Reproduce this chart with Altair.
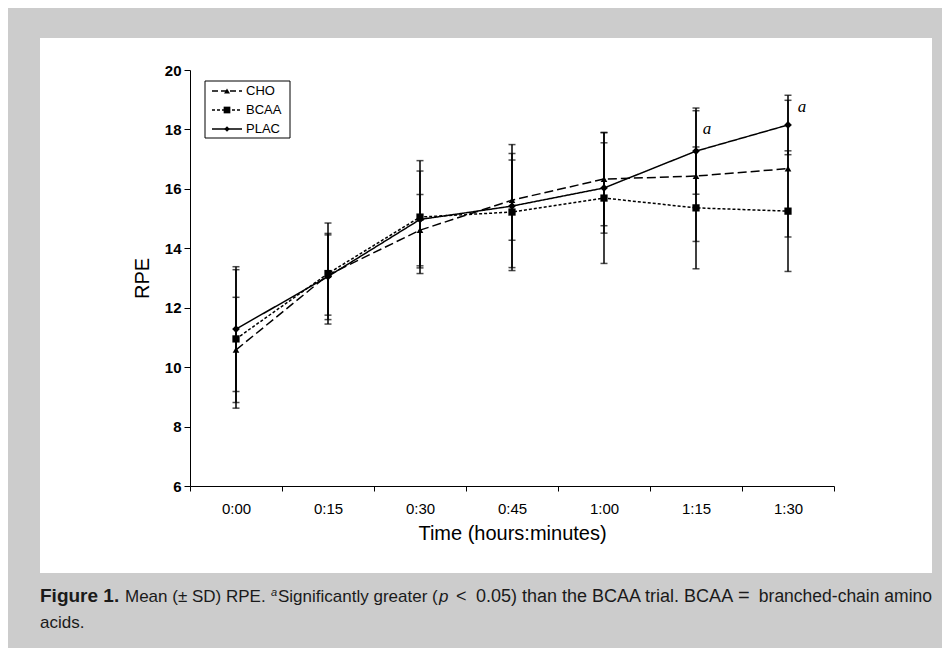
import altair as alt
import pandas as pd

times = ["0:00", "0:15", "0:30", "0:45", "1:00", "1:15", "1:30"]
series = ["CHO", "BCAA", "PLAC"]
cho_mean = [10.58, 13.10, 14.61, 15.62, 16.33, 16.43, 16.68]
cho_sd = [1.77, 1.35, 1.20, 1.35, 1.57, 2.20, 2.30]
bcaa_mean = [10.95, 13.15, 15.05, 15.22, 15.69, 15.36, 15.25]
bcaa_sd = [2.33, 1.70, 1.90, 1.97, 2.20, 2.05, 2.03]
plac_mean = [11.28, 13.05, 14.97, 15.42, 16.03, 17.27, 18.15]
plac_sd = [2.10, 1.45, 1.63, 2.07, 1.52, 1.45, 1.00]
y_ticks = [6, 8, 10, 12, 14, 16, 18, 20]
sig_times = ["1:15", "1:30"]
sig_y = [18.0, 18.75]
sig_dx = [11, 14]

rows = []
for name, m, s in [("CHO", cho_mean, cho_sd), ("BCAA", bcaa_mean, bcaa_sd), ("PLAC", plac_mean, plac_sd)]:
    for t, mv, sv in zip(times, m, s):
        rows.append({"time": t, "series": name, "mean": mv, "lo": mv - sv, "hi": mv + sv})
df = pd.DataFrame(rows)

FONT = "Liberation Sans"
dash_scale = alt.Scale(domain=series, range=[[9, 4], [3, 2], [1, 0]])
shape_scale = alt.Scale(domain=series, range=["triangle-up", "square", "diamond"])
size_scale = alt.Scale(domain=series, range=[45, 60, 40])

x_enc = alt.X("time:N", sort=times, scale=alt.Scale(domain=times, paddingInner=0, paddingOuter=0),
              axis=alt.Axis(title="Time (hours:minutes)", labelAngle=0, labelFontSize=15, labelFont=FONT,
                            labelColor="black", labelPadding=10, tickSize=5, tickBand="extent",
                            tickColor="black", domainColor="black", titleFont=FONT, titleFontSize=20,
                            titleFontWeight="normal", titleColor="black", titlePadding=7, grid=False,
                            zindex=1))
y_scale = alt.Scale(domain=[6, 20], nice=False, zero=False)
y_enc = alt.Y("mean:Q", scale=y_scale,
              axis=alt.Axis(title="RPE", values=y_ticks, labelFontSize=15, labelFont=FONT,
                            labelFontWeight="bold", labelColor="black", labelPadding=3, tickSize=6,
                            tickColor="black", domainColor="black", titleFont=FONT, titleFontSize=20,
                            titleFontWeight="normal", titleColor="black", titlePadding=12, grid=False,
                            zindex=1))

one = pd.DataFrame({"k": [0]})
panel = alt.Chart(one).mark_rect(fill="white").encode(
    x=alt.value(-150), x2=alt.value(742), y=alt.value(-32), y2=alt.value(503))

base = alt.Chart(df)
lines = base.mark_line(color="black", strokeWidth=1.5).encode(
    x=x_enc, y=y_enc,
    strokeDash=alt.StrokeDash("series:N", scale=dash_scale, legend=None),
    detail="series:N")
rules = base.mark_rule(color="black", strokeWidth=1.5).encode(
    x=alt.X("time:N", sort=times), y=alt.Y("lo:Q", scale=y_scale), y2="hi:Q")
caps_lo = base.mark_tick(color="black", size=7, thickness=1.5).encode(
    x=alt.X("time:N", sort=times), y=alt.Y("lo:Q", scale=y_scale))
caps_hi = base.mark_tick(color="black", size=7, thickness=1.5).encode(
    x=alt.X("time:N", sort=times), y=alt.Y("hi:Q", scale=y_scale))
points = base.mark_point(filled=True, color="black", opacity=1).encode(
    x=alt.X("time:N", sort=times), y=alt.Y("mean:Q", scale=y_scale),
    shape=alt.Shape("series:N", scale=shape_scale, legend=None),
    size=alt.Size("series:N", scale=size_scale, legend=None))

sig_df = pd.DataFrame({"time": sig_times, "y": sig_y, "dx": sig_dx})
sig_layers = [
    alt.Chart(sig_df.iloc[[i]]).mark_text(text="a", font="Liberation Serif", fontStyle="italic",
                                          fontSize=17, color="black", dx=int(sig_dx[i]), baseline="middle").encode(
        x=alt.X("time:N", sort=times), y=alt.Y("y:Q", scale=y_scale))
    for i in range(len(sig_times))
]

# legend (layout only)
legend_box = alt.Chart(one).mark_rect(fill="white", stroke="black", strokeWidth=1).encode(
    x=alt.value(15), x2=alt.value(100), y=alt.value(11), y2=alt.value(68))
leg_y = [21, 40, 59]
leg_dash = [[6, 3], [3, 2], [1, 0]]
leg_shape = ["triangle-up", "square", "diamond"]
leg_size = [35, 45, 30]
legend_layers = []
for i, name in enumerate(series):
    legend_layers.append(alt.Chart(one).mark_rule(color="black", strokeWidth=1.5, strokeDash=leg_dash[i]).encode(
        x=alt.value(22), x2=alt.value(52), y=alt.value(leg_y[i])))
    legend_layers.append(alt.Chart(one).mark_point(filled=True, color="black", opacity=1,
                                                   shape=leg_shape[i], size=leg_size[i]).encode(
        x=alt.value(37), y=alt.value(leg_y[i])))
    legend_layers.append(alt.Chart(one).mark_text(text=name, font=FONT, fontSize=13, color="black",
                                                  align="left", baseline="middle").encode(
        x=alt.value(56), y=alt.value(leg_y[i])))

# caption (plot-area coordinates: page x = value + 190, page y = value + 70)
cy = 532
cap_color = "#1a1a1a"
cap_segments = [
    ("Figure 1.", -150, cy, "bold", "normal", 19, "left"),
    ("Mean (± SD) RPE.", -65, cy, "normal", "normal", 17, "left"),
    ("a", 81, cy - 6, "normal", "italic", 11, "left"),
    ("Significantly greater", 88, cy, "normal", "normal", 17, "left"),
    ("(", 242, cy, "normal", "normal", 17, "left"),
    ("p", 249, cy, "normal", "italic", 17, "left"),
    ("<", 266, cy, "normal", "normal", 18, "left"),
    ("0.05) than the BCAA trial. BCAA", 286, cy, "normal", "normal", 18, "left"),
    ("=", 548, cy, "normal", "normal", 20, "left"),
    ("branched-chain amino", 742, cy, "normal", "normal", 17.5, "right"),
    ("acids.", -150, cy + 26, "normal", "normal", 17, "left"),
]
caption_layers = [
    alt.Chart(one).mark_text(text=t, font=FONT, fontSize=fs, fontWeight=fw, fontStyle=st, color=cap_color,
                             align=al, baseline="alphabetic").encode(x=alt.value(x), y=alt.value(y))
    for (t, x, y, fw, st, fs, al) in cap_segments
]

chart = alt.layer(panel, lines, rules, caps_lo, caps_hi, points, *sig_layers, legend_box,
                  *legend_layers, *caption_layers).properties(
    width=644, height=416,
    autosize=alt.AutoSizeParams(type="none"),
    padding={"left": 182, "top": 62, "right": 108, "bottom": 162},
    background="#cccccc",
).configure_view(stroke=None)

chart.save("out.html", embed_options={"renderer": "svg", "actions": False})
